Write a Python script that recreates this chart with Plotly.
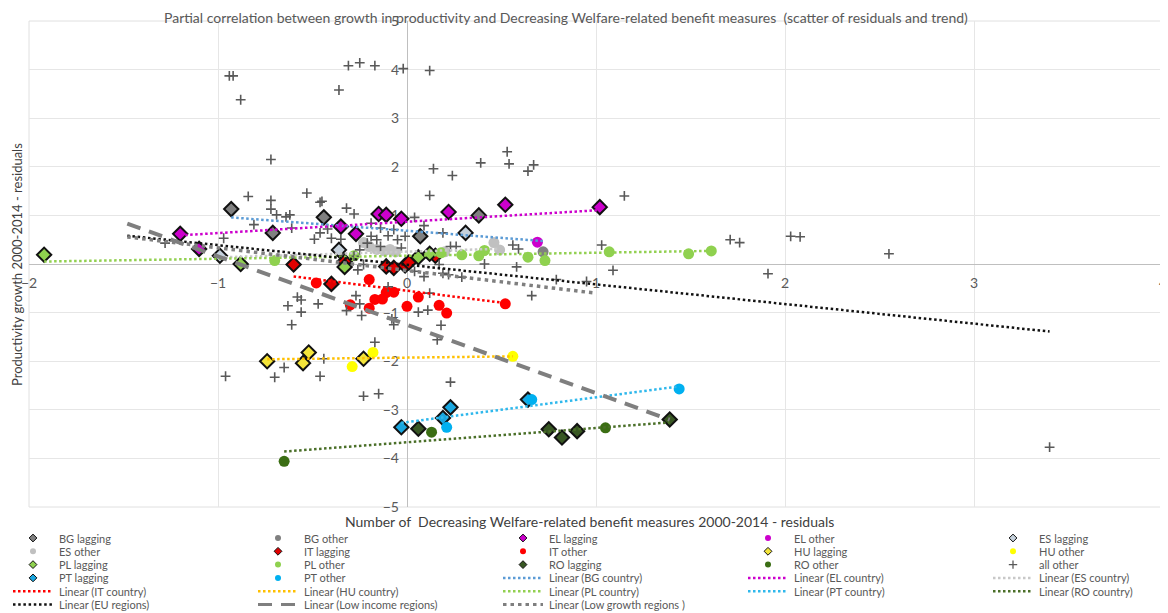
import plotly.graph_objects as go

# ---------------- data ----------------
bg_lagging_x = [-0.93, -0.71, -0.44, 0.07, 0.38]
bg_lagging_y = [1.13, 0.64, 0.96, 0.57, 1.00]
bg_other_x = [0.72]
bg_other_y = [0.25]
el_lagging_x = [-1.20, -1.10, -0.35, -0.27, -0.15, -0.11, -0.03, 0.22, 0.52, 1.02]
el_lagging_y = [0.62, 0.31, 0.77, 0.62, 1.03, 1.01, 0.93, 1.07, 1.22, 1.17]
el_other_x = [0.69]
el_other_y = [0.45]
es_lagging_x = [-0.99, -0.36, 0.31]
es_lagging_y = [0.17, 0.29, 0.64]
es_other_x = [-0.23, -0.20, -0.16, -0.12, -0.09, -0.06, 0.20, 0.46, 0.49]
es_other_y = [0.44, 0.36, 0.30, 0.27, 0.30, 0.25, 0.25, 0.44, 0.29]
it_lagging_x = [-0.60, -0.40, -0.33, -0.11, -0.07, -0.01, 0.01, 0.15]
it_lagging_y = [-0.01, -0.41, 0.05, -0.05, -0.08, -0.03, 0.03, 0.17]
it_other_x = [-0.48, -0.20, -0.11, -0.07, -0.17, -0.13, -0.20, -0.30, 0.00, 0.06, 0.17, 0.21, 0.52]
it_other_y = [-0.39, -0.32, -0.59, -0.58, -0.73, -0.72, -0.91, -0.84, -0.87, -0.68, -0.85, -1.01, -0.82]
hu_lagging_x = [-0.74, -0.55, -0.52, -0.23]
hu_lagging_y = [-2.00, -2.04, -1.82, -1.95]
hu_other_x = [-0.29, -0.18, 0.56]
hu_other_y = [-2.11, -1.82, -1.90]
pl_lagging_x = [-1.92, -0.88, -0.33, 0.06, 0.12]
pl_lagging_y = [0.19, 0.00, -0.06, 0.14, 0.21]
pl_other_x = [-0.70, -0.28, 0.18, 0.29, 0.38, 0.41, 0.64, 0.73, 1.07, 1.49, 1.61]
pl_other_y = [0.07, 0.17, 0.23, 0.19, 0.17, 0.28, 0.14, 0.07, 0.25, 0.21, 0.27]
ro_lagging_x = [0.06, 0.75, 0.82, 0.90, 1.39]
ro_lagging_y = [-3.39, -3.40, -3.57, -3.44, -3.20]
ro_other_x = [-0.65, 0.13, 1.05]
ro_other_y = [-4.06, -3.46, -3.37]
pt_lagging_x = [-0.03, 0.19, 0.23, 0.64]
pt_lagging_y = [-3.36, -3.17, -2.95, -2.79]
pt_other_x = [0.21, 0.66, 1.44]
pt_other_y = [-3.36, -2.79, -2.57]
all_other_x = [-0.94, -0.92, -0.88, -0.72, -0.36, -0.31, -0.25, -0.17, -0.02, 0.12,
               0.14, 0.24, 0.39, 0.53, 0.54, 0.64, 0.67, 1.15, 1.71, 1.76,
               2.03, 2.08, 2.55, 1.91, 3.40, 1.03, 1.09, 0.95, 0.79, 0.66,
               0.58, 0.41, 0.56, 0.59, 0.29, 0.19, 0.23, 0.26, 0.19, 0.12,
               -0.32, -0.28, -0.45, 0.04, -0.19, -0.14, -0.07, 0.09, -0.40, -0.35,
               -0.19, -0.16, -0.10, -0.05, -0.01, -0.14, -0.25, -0.21, -0.03, -0.23,
               -0.26, 0.04, 0.09, 0.22, -0.28, 0.17, -0.84, -0.53, -0.72, -0.72,
               -0.69, -0.64, -0.62, -0.46, -0.81, -0.61, -0.97, -1.28, -0.49, -0.46,
               -0.42, -0.58, -0.56, -0.63, -0.47, -0.56, -0.61, -0.27, -0.32, -0.25,
               -0.24, -0.10, -0.08, -0.07, 0.06, 0.11, 0.12, 0.18, 0.16, -0.17,
               -0.44, -0.65, -0.70, -0.96, -0.46, -0.23, -0.15, 0.23]
all_other_y = [3.87, 3.87, 3.38, 2.15, 3.58, 4.08, 4.14, 4.08, 4.02, 3.98,
               1.96, 1.82, 2.08, 2.31, 2.06, 1.91, 2.04, 1.40, 0.50, 0.44,
               0.57, 0.56, 0.21, -0.20, -3.77, 0.39, -0.13, -0.36, -0.32, -0.65,
               -0.06, 0.00, 0.39, 0.31, -0.27, 0.64, 0.36, 0.36, -0.19, 1.41,
               1.15, 1.03, 1.29, 0.96, 0.84, 0.74, 0.71, 0.79, 0.53, 0.51,
               0.57, 0.50, 0.58, 0.50, 0.57, 0.36, 0.29, 0.43, 0.33, -0.01,
               -0.12, -0.15, -0.26, -0.22, 0.16, -0.01, 1.39, 1.46, 1.31, 1.13,
               1.01, 0.97, 1.01, 1.27, 0.81, 0.74, 0.53, 0.43, 0.51, 0.64,
               0.72, -0.68, -0.74, -0.86, -0.82, -0.99, -1.25, -0.65, -0.96, -0.82,
               -1.06, -0.47, -1.13, -1.25, -0.99, -0.95, -0.60, -1.26, -1.56, -1.61,
               -1.95, -2.13, -2.33, -2.31, -2.31, -2.72, -2.67, -2.43]

# linear trends: y = intercept + slope * x, drawn between x_start and x_end
trend_names = ["Linear (BG country)", "Linear (EL country)", "Linear (ES country)",
               "Linear (IT country)", "Linear (HU country)", "Linear (PL country)",
               "Linear (PT country)", "Linear (RO country)", "Linear (EU regions)",
               "Linear (Low income regions)", "Linear (Low growth regions )"]
trend_x_start = [-0.93, -1.20, -0.99, -0.60, -0.74, -1.92, -0.03, -0.65, -1.48, -1.48, -1.48]
trend_x_end = [0.72, 1.02, 0.49, 0.52, 0.56, 1.61, 1.44, 1.39, 3.40, 1.39, 0.99]
trend_intercept = [0.684, 0.870, 0.255, -0.549, -1.926, 0.170, -3.253, -3.668, -0.016, -1.250, -0.134]
trend_slope = [-0.295, 0.234, 0.120, -0.490, 0.046, 0.062, 0.510, 0.294, -0.404, -1.406, -0.467]

x_ticks = [-2, -1, 0, 1, 2, 3, 4]
y_ticks = [-5, -4, -3, -2, -1, 1, 2, 3, 4, 5]

title_text = ("Partial correlation between growth in productivity and Decreasing "
              "Welfare-related benefit measures  (scatter of residuals and trend)")
x_title = "Number of  Decreasing Welfare-related benefit measures 2000-2014 - residuals"
y_title = "Productivity growth 2000-2014 - residuals"

# ---------------- styles ----------------
series = [
    ("BG lagging", bg_lagging_x, bg_lagging_y, "diamond", "#808080"),
    ("BG other", bg_other_x, bg_other_y, "circle", "#808080"),
    ("EL lagging", el_lagging_x, el_lagging_y, "diamond", "#cc00cc"),
    ("EL other", el_other_x, el_other_y, "circle", "#cc00cc"),
    ("ES lagging", es_lagging_x, es_lagging_y, "diamond", "#c5d1dc"),
    ("ES other", es_other_x, es_other_y, "circle", "#c0c0c0"),
    ("IT lagging", it_lagging_x, it_lagging_y, "diamond", "#e00000"),
    ("IT other", it_other_x, it_other_y, "circle", "#ff0000"),
    ("HU lagging", hu_lagging_x, hu_lagging_y, "diamond", "#f3e43a"),
    ("HU other", hu_other_x, hu_other_y, "circle", "#ffff00"),
    ("PL lagging", pl_lagging_x, pl_lagging_y, "diamond", "#8fd14f"),
    ("PL other", pl_other_x, pl_other_y, "circle", "#8fd14f"),
    ("RO lagging", ro_lagging_x, ro_lagging_y, "diamond", "#385723"),
    ("RO other", ro_other_x, ro_other_y, "circle", "#3b6e14"),
    ("all other", all_other_x, all_other_y, "cross", "#595959"),
    ("PT lagging", pt_lagging_x, pt_lagging_y, "diamond", "#1aa7e0"),
    ("PT other", pt_other_x, pt_other_y, "circle", "#00b0f0"),
]
trend_style = {
    "Linear (BG country)": ("#5b9bd5", 2.5, "2.5px,2.5px"),
    "Linear (EL country)": ("#cc00cc", 2.5, "2.5px,2.5px"),
    "Linear (ES country)": ("#c8c8c8", 2.5, "2.5px,2.5px"),
    "Linear (IT country)": ("#ff0000", 2.5, "2.5px,2.5px"),
    "Linear (HU country)": ("#ffc000", 2.5, "2.5px,2.5px"),
    "Linear (PL country)": ("#92d050", 2.5, "2.5px,2.5px"),
    "Linear (PT country)": ("#2fb8ec", 2.5, "2.5px,2.5px"),
    "Linear (RO country)": ("#4a6f28", 2.5, "2.5px,2.5px"),
    "Linear (EU regions)": ("#111111", 2.5, "2.5px,2.7px"),
    "Linear (Low income regions)": ("#7f7f7f", 4, "14px,9px"),
    "Linear (Low growth regions )": ("#7f7f7f", 3.5, "3.5px,4px"),
}

# The page places the figure 8px from the window's top-left corner,
# so the figure is sized/positioned to land on the 1168x613 window.
OFF = 8
W, H = 1168 - OFF, 613 - OFF
PL_L, PL_R, PL_T, PL_B = 29 - OFF, 1163 - OFF, 21 - OFF, 507 - OFF

fig = go.Figure()

def marker_style(sym, color, big=True):
    if sym == "cross":
        return dict(symbol="cross-thin", size=7 if big else 6,
                    line=dict(width=1.6 if big else 1.3, color=color), color=color)
    if sym == "diamond":
        return dict(symbol="diamond", size=11 if big else 6, color=color,
                    line=dict(width=2 if big else 1, color="#111111"))
    return dict(symbol="circle", size=11 if big else 6, color=color, line=dict(width=0))

for name, xs, ys, sym, col in series:
    fig.add_trace(go.Scatter(x=xs, y=ys, mode="markers", name=name,
                             marker=marker_style(sym, col), cliponaxis=False,
                             showlegend=False, xaxis="x", yaxis="y"))

for i, name in enumerate(trend_names):
    x0, x1 = trend_x_start[i], trend_x_end[i]
    a, b = trend_intercept[i], trend_slope[i]
    col, w, dash = trend_style[name]
    fig.add_trace(go.Scatter(x=[x0, x1], y=[a + b * x0, a + b * x1], mode="lines",
                             name=name, line=dict(color=col, width=w, dash=dash),
                             showlegend=False, xaxis="x", yaxis="y"))

# ---------------- legend (5 columns, row-major like the reference) ----------------
legend_order = ["BG lagging", "BG other", "EL lagging", "EL other", "ES lagging",
                "ES other", "IT lagging", "IT other", "HU lagging", "HU other",
                "PL lagging", "PL other", "RO lagging", "RO other", "all other",
                "PT lagging", "PT other", "Linear (BG country)", "Linear (EL country)", "Linear (ES country)",
                "Linear (IT country)", "Linear (HU country)", "Linear (PL country)", "Linear (PT country)", "Linear (RO country)",
                "Linear (EU regions)", "Linear (Low income regions)", "Linear (Low growth regions )"]
series_lookup = {s[0]: s for s in series}
col_marker_x = [33 + 245 * c for c in range(5)]
row_y = [538 + 13.3 * r for r in range(6)]
annotations = []
for k, name in enumerate(legend_order):
    r, c = divmod(k, 5)
    mx, my = col_marker_x[c], row_y[r]
    if name in series_lookup:
        _, _, _, sym, col = series_lookup[name]
        fig.add_trace(go.Scatter(x=[mx], y=[my], mode="markers", marker=marker_style(sym, col, big=False),
                                 showlegend=False, xaxis="x2", yaxis="y2", hoverinfo="skip"))
    else:
        col, w, dash = trend_style[name]
        fig.add_trace(go.Scatter(x=[mx - 20, mx + 20], y=[my, my], mode="lines",
                                 line=dict(color=col, width=min(w, 3), dash=dash),
                                 showlegend=False, xaxis="x2", yaxis="y2", hoverinfo="skip"))
    annotations.append(dict(x=mx + 24, y=my, xref="x2", yref="y2", text=name, showarrow=False,
                            xanchor="left", yanchor="middle",
                            font=dict(family="Lato", size=11, color="#595959")))

def px(xs):
    return (xs - OFF) / W

def py(ys):
    return 1 - (ys - OFF) / H

annotations += [
    dict(x=px(566), y=1, xref="paper", yref="paper", text=title_text, showarrow=False,
         xanchor="center", yanchor="top", borderpad=0,
         font=dict(family="Lato", size=14, color="#595959")),
    dict(x=px(590), y=py(521), xref="paper", yref="paper", text=x_title, showarrow=False,
         xanchor="center", yanchor="middle", font=dict(family="Lato", size=14, color="#404040")),
    dict(x=px(17), y=py(265), xref="paper", yref="paper", text=y_title, showarrow=False,
         textangle=-90, xanchor="center", yanchor="middle",
         font=dict(family="Lato", size=13, color="#404040")),
]

xdom = [PL_L / W, PL_R / W]
ydom = [1 - PL_B / H, 1 - PL_T / H]
x_zero_paper = xdom[0] + (0 - (-2)) / 6 * (xdom[1] - xdom[0])
y_zero_paper = ydom[0] + (0 - (-5)) / 10 * (ydom[1] - ydom[0])
leg_h = 613 - 515

tickfont = dict(family="Lato", size=14, color="#595959")
fig.update_layout(
    width=W, height=H, margin=dict(l=0, r=0, t=0, b=0, autoexpand=False),
    paper_bgcolor="white", plot_bgcolor="white", showlegend=False,
    xaxis=dict(domain=xdom, range=[-2, 4], tickmode="array", tickvals=x_ticks,
               showgrid=True, gridcolor="#e6e6e6", gridwidth=1,
               zeroline=True, zerolinecolor="#bfbfbf", zerolinewidth=1,
               showline=False, ticks="", anchor="free", position=y_zero_paper,
               tickfont=tickfont, ticklabelstandoff=9, layer="below traces",
               automargin=False),
    yaxis=dict(domain=ydom, range=[-5, 5], tickmode="array", tickvals=y_ticks,
               showgrid=True, gridcolor="#e6e6e6", gridwidth=1,
               zeroline=True, zerolinecolor="#bfbfbf", zerolinewidth=1,
               showline=False, ticks="", anchor="free", position=x_zero_paper,
               tickfont=tickfont, ticklabelstandoff=8, layer="below traces",
               automargin=False),
    xaxis2=dict(domain=[0, 1], range=[OFF, OFF + W], visible=False, anchor="y2", automargin=False),
    yaxis2=dict(domain=[0, leg_h / H], range=[613, 515], visible=False, anchor="x2", automargin=False),
    annotations=annotations,
    shapes=[dict(type="rect", xref="x domain", yref="y domain", x0=0, x1=1, y0=0, y1=1,
                 line=dict(color="#e0e0e0", width=1), layer="below")],
)

fig.write_html("out.html")
